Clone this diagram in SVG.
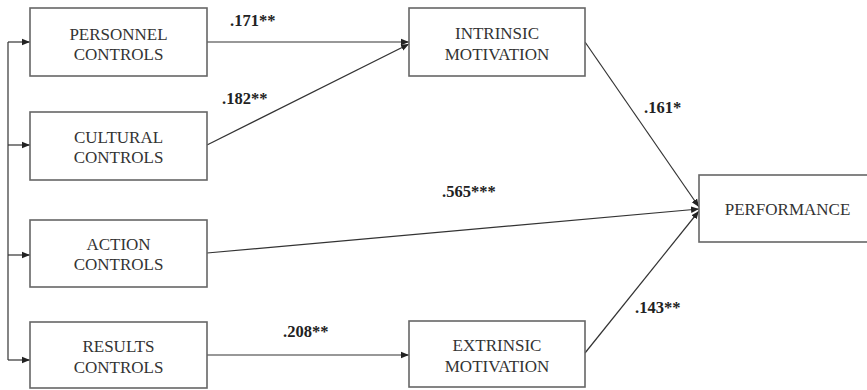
<svg xmlns="http://www.w3.org/2000/svg" width="867" height="390" viewBox="0 0 867 390">
<defs>
<style>
.box{fill:#fff;stroke:#666;stroke-width:1.6}
.t{font-family:'Liberation Serif','Times New Roman',Times,serif;font-size:17px;fill:#333;text-anchor:middle}
.l{font-family:'Liberation Serif','Times New Roman',Times,serif;font-size:16.5px;font-weight:bold;fill:#222}
.c{fill:none;stroke:#333;stroke-width:1.2}
</style>
<marker id="ah" viewBox="0 0 10 10" refX="10" refY="5" markerWidth="8" markerHeight="8" markerUnits="userSpaceOnUse" orient="auto">
<path d="M0,1 L10,5 L0,9 z" fill="#222"/>
</marker>
</defs>
<rect width="867" height="390" fill="#fff"/>
<g id="connectors">
<path class="c" d="M8,42 V360"/>
<path class="c" d="M8,42 H30" marker-end="url(#ah)"/>
<path class="c" d="M8,145 H30" marker-end="url(#ah)"/>
<path class="c" d="M8,255 H30" marker-end="url(#ah)"/>
<path class="c" d="M8,360 H30" marker-end="url(#ah)"/>
<path class="c" d="M207,42 H409" marker-end="url(#ah)"/>
<path class="c" d="M207,145 L409,44" marker-end="url(#ah)"/>
<path class="c" d="M207,355 H409" marker-end="url(#ah)"/>
<path class="c" d="M585,42 L699,207" marker-end="url(#ah)"/>
<path class="c" d="M207,253 L699,209" marker-end="url(#ah)"/>
<path class="c" d="M585,353 L699,211" marker-end="url(#ah)"/>
<text class="l" x="230" y="26">.171**</text>
<text class="l" x="222" y="104">.182**</text>
<text class="l" x="644" y="113">.161*</text>
<text class="l" x="442" y="197">.565***</text>
<text class="l" x="283" y="337">.208**</text>
<text class="l" x="635" y="313">.143**</text>
</g>
<g id="personnel"><rect class="box" x="30" y="8" width="177" height="68"/><text class="t" x="118.5" y="40">PERSONNEL</text><text class="t" x="118.5" y="60">CONTROLS</text></g>
<g id="cultural"><rect class="box" x="30" y="112" width="177" height="68"/><text class="t" x="118.5" y="143">CULTURAL</text><text class="t" x="118.5" y="163">CONTROLS</text></g>
<g id="action"><rect class="box" x="30" y="220" width="177" height="67"/><text class="t" x="118.5" y="250">ACTION</text><text class="t" x="118.5" y="270">CONTROLS</text></g>
<g id="results"><rect class="box" x="30" y="322" width="177" height="66"/><text class="t" x="118.5" y="352">RESULTS</text><text class="t" x="118.5" y="373">CONTROLS</text></g>
<g id="intrinsic"><rect class="box" x="409" y="8" width="176" height="68"/><text class="t" x="497" y="39">INTRINSIC</text><text class="t" x="497" y="60">MOTIVATION</text></g>
<g id="extrinsic"><rect class="box" x="409" y="321" width="176" height="66"/><text class="t" x="497" y="351">EXTRINSIC</text><text class="t" x="497" y="372">MOTIVATION</text></g>
<g id="performance"><rect class="box" x="699" y="175" width="200" height="67"/><text class="t" x="787.5" y="215">PERFORMANCE</text></g>
</svg>
